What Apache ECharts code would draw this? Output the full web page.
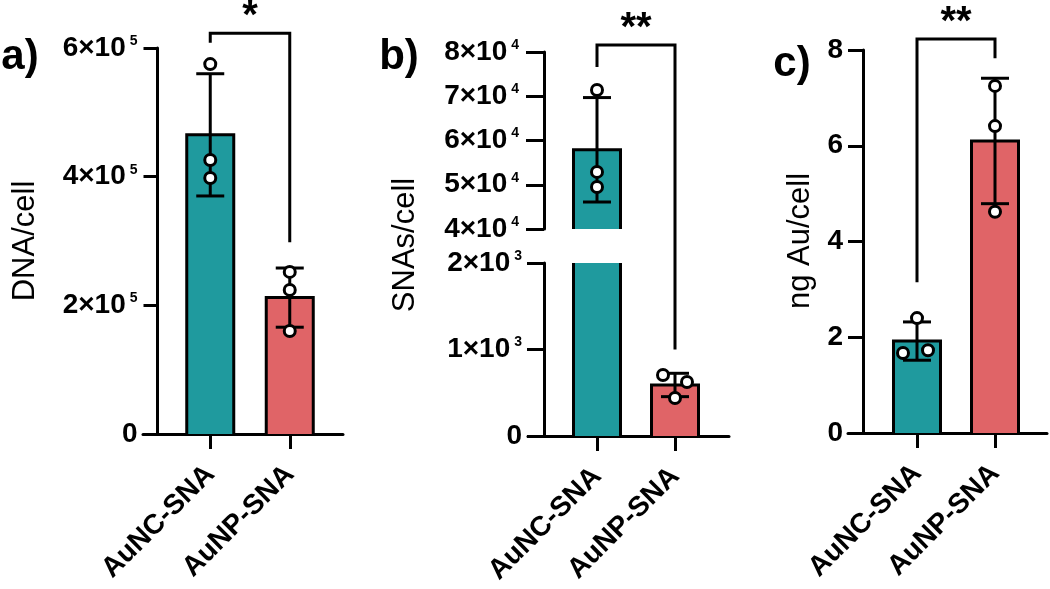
<!DOCTYPE html>
<html><head><meta charset="utf-8">
<script src="https://cdn.jsdelivr.net/npm/echarts@6/dist/echarts.min.js"></script>
<style>html,body{margin:0;padding:0;background:#fff}#c{width:1050px;height:589px}</style>
</head><body><div id="c"></div>
<script>
// ---------------- data ----------------
const categories = ['AuNC-SNA', 'AuNP-SNA'];
// panel a: DNA/cell
const dnaMean = [465000, 212000];
const dnaSD = [95000, 46000];
const dnaPtsNC = [575000, 426000, 398000];
const dnaPtsNP = [252000, 224000, 160000];
// panel b: SNAs/cell (broken axis)
const snaMean = [57900, 590];
const snaSD = [11800, 135];
const snaPtsNC = [71400, 52900, 49500];
const snaPtsNP = [705, 624, 439];
// panel c: ng Au/cell
const auMean = [1.92, 6.10];
const auSD = [0.40, 1.31];
const auPtsNC = [2.40, 1.67, 1.73];
const auPtsNP = [7.25, 6.41, 4.62];
// text
const yTitles = ['DNA/cell', 'SNAs/cell', 'ng Au/cell'];
const panelLabels = ['a)', 'b)', 'c)'];
const sigLabels = ['*', '**', '**'];
// significance bracket heights (data units): [leftLegBottom, top, rightLegBottom]
const bracketA = [608000, 623000, 298000];
const bracketB = [76600, 81600, 1000];
const bracketC = [3.15, 8.23, 7.83];

// ---------------- style ----------------
const FF = '"Liberation Sans", Arial, Helvetica, sans-serif';
const TEAL = '#1F9A9E';
const RED = '#E06467';
const barColors = [TEAL, RED];
const BAR_W = 47;
const CAP_HALF = 14;
const LW = 3;
// point jitter in px (style only)
const jit = { aNC:[0,0,0], aNP:[0,0,0], bNC:[0,0,0], bNP:[-12,12,0], cNC:[0,-14,11], cNP:[0,0,0] };

function barRender(params, api) {
  const idx = api.value(0), val = api.value(1);
  const cs = params.coordSys;
  const c = api.coord([idx, val]);
  const base = api.coord([idx, 0]);
  const l = c[0] - BAR_W / 2, r = c[0] + BAR_W / 2;
  const topClipped = c[1] < cs.y;
  const top = Math.max(c[1], cs.y);
  const bot = Math.min(base[1], cs.y + cs.height);
  if (bot <= top) return null;
  const ch = [{ type: 'rect', shape: { x: l, y: top, width: BAR_W, height: bot - top }, style: { fill: api.visual('color') } }];
  const st = { stroke: '#000', lineWidth: LW, fill: null, lineJoin: 'miter' };
  if (!topClipped) {
    ch.push({ type: 'polyline', shape: { points: [[l, bot], [l, top], [r, top], [r, bot]] }, style: st });
  } else {
    ch.push({ type: 'line', shape: { x1: l, y1: top, x2: l, y2: bot }, style: st });
    ch.push({ type: 'line', shape: { x1: r, y1: top, x2: r, y2: bot }, style: st });
  }
  return { type: 'group', children: ch };
}
function errRender(params, api) {
  const idx = api.value(0);
  const hi = api.coord([idx, api.value(1)]);
  const lo = api.coord([idx, api.value(2)]);
  const st = { stroke: '#000', lineWidth: LW };
  return { type: 'group', children: [
    { type: 'line', shape: { x1: hi[0], y1: hi[1], x2: lo[0], y2: lo[1] }, style: st },
    { type: 'line', shape: { x1: hi[0] - CAP_HALF, y1: hi[1], x2: hi[0] + CAP_HALF, y2: hi[1] }, style: st },
    { type: 'line', shape: { x1: lo[0] - CAP_HALF, y1: lo[1], x2: lo[0] + CAP_HALF, y2: lo[1] }, style: st }
  ]};
}

function barSeries(xi, yi, means, which) {
  return { type: 'custom', xAxisIndex: xi, yAxisIndex: yi, renderItem: barRender, z: 2, clip: false,
    data: which.map(i => ({ value: [i, means[i]], itemStyle: { color: barColors[i] } })) };
}
function errSeries(xi, yi, means, sds, which) {
  return { type: 'custom', xAxisIndex: xi, yAxisIndex: yi, renderItem: errRender, z: 3, clip: false,
    data: which.map(i => [i, means[i] + sds[i], means[i] - sds[i]]) };
}
function ptSeries(xi, yi, pts, catIdx, jx) {
  return { type: 'scatter', xAxisIndex: xi, yAxisIndex: yi, z: 4, symbol: 'circle', symbolSize: 11,
    itemStyle: { color: '#fff', borderColor: '#000', borderWidth: 3, opacity: 1 },
    data: pts.map((v, k) => ({ value: [catIdx, v], symbolOffset: [jx[k], 0] })) };
}

const rich = {
  n: { fontSize: 28, fontWeight: 'bold', fontFamily: FF, color: '#000' },
  s: { fontSize: 14, fontWeight: 'bold', fontFamily: FF, color: '#000', verticalAlign: 'top', padding: [0, 0, 0, 4] }
};
const sci = (base, exp) => v => v === 0 ? '{n|0}' : '{n|' + Math.round(v / base) + '×10}{s|' + exp + '}';

function catAxis(gi, showLbl) {
  return { type: 'category', gridIndex: gi, data: categories, show: showLbl,
    axisLine: { show: false },
    axisTick: { show: true, alignWithLabel: true, length: 15, lineStyle: { width: LW, color: '#000' } },
    axisLabel: { interval: 0, rotate: 45, margin: 36, fontSize: 28, fontWeight: 'bold', fontFamily: FF, color: '#000' } };
}
function lineXAxis(gi) {
  return { type: 'value', gridIndex: gi, min: 0, max: 1,
    axisLine: { show: true, onZero: false, lineStyle: { width: LW, color: '#000' } },
    axisTick: { show: false }, axisLabel: { show: false }, splitLine: { show: false } };
}
function valYAxis(gi, min, max, interval, offset, tickLen, margin, fmt) {
  return { type: 'value', gridIndex: gi, min, max, interval, offset,
    axisLine: { show: true, lineStyle: { width: LW, color: '#000' } },
    axisTick: { show: true, length: tickLen, lineStyle: { width: LW, color: '#000' } },
    axisLabel: { margin, formatter: fmt, rich, fontSize: 28, fontWeight: 'bold', fontFamily: FF, color: '#000' },
    splitLine: { show: false } };
}
const hiddenY = gi => ({ type: 'value', gridIndex: gi, show: false, min: 0, max: 1 });

const option = {
  animation: false,
  backgroundColor: '#fff',
  grid: [
    { left: 170.5, top: 48, width: 159, height: 386 },   // 0 a
    { left: 143, top: 48, width: 200, height: 386 },     // 1 a axis line
    { left: 558, top: 52, width: 156, height: 177 },     // 2 b upper
    { left: 558, top: 263, width: 156, height: 173 },    // 3 b lower
    { left: 528, top: 263, width: 201, height: 173 },    // 4 b axis line
    { left: 878, top: 50, width: 156, height: 383 },     // 5 c
    { left: 848, top: 50, width: 199, height: 383 }      // 6 c axis line
  ],
  xAxis: [
    catAxis(0, true), lineXAxis(1), catAxis(2, false), catAxis(3, true), lineXAxis(4), catAxis(5, true), lineXAxis(6)
  ],
  yAxis: [
    valYAxis(0, 0, 600000, 200000, 13, 14, 20, sci(1e5, 5)),
    hiddenY(1),
    valYAxis(2, 40000, 80000, 10000, 14, 18, 25, sci(1e4, 4)),
    valYAxis(3, 0, 2000, 1000, 14, 17, 22, sci(1e3, 3)),
    hiddenY(4),
    valYAxis(5, 0, 8, 2, 15, 15, 20, v => '{n|' + v + '}'),
    hiddenY(6)
  ],
  series: [
    barSeries(0, 0, dnaMean, [0, 1]), errSeries(0, 0, dnaMean, dnaSD, [0, 1]),
    ptSeries(0, 0, dnaPtsNC, 0, jit.aNC), ptSeries(0, 0, dnaPtsNP, 1, jit.aNP),
    barSeries(2, 2, snaMean, [0]), errSeries(2, 2, snaMean, snaSD, [0]), ptSeries(2, 2, snaPtsNC, 0, jit.bNC),
    barSeries(3, 3, snaMean, [0, 1]), errSeries(3, 3, snaMean, snaSD, [1]), ptSeries(3, 3, snaPtsNP, 1, jit.bNP),
    barSeries(5, 5, auMean, [0, 1]), errSeries(5, 5, auMean, auSD, [0, 1]),
    ptSeries(5, 5, auPtsNC, 0, jit.cNC), ptSeries(5, 5, auPtsNP, 1, jit.cNP)
  ]
};

const chart = echarts.init(document.getElementById('c'));
chart.setOption(option);

const px = (g, x, y) => chart.convertToPixel({ gridIndex: g }, [x, y]);
const brackets = [
  [px(0, 0, bracketA[0]), px(0, 0, bracketA[1]), px(0, 1, bracketA[1]), px(0, 1, bracketA[2])],
  [px(2, 0, bracketB[0]), px(2, 0, bracketB[1]), px(2, 1, bracketB[1]), px(3, 1, bracketB[2])],
  [px(5, 0, bracketC[0]), px(5, 0, bracketC[1]), px(5, 1, bracketC[1]), px(5, 1, bracketC[2])]
];
const graphics = [];
brackets.forEach((pts, i) => {
  graphics.push({ type: 'polyline', shape: { points: pts }, style: { stroke: '#000', lineWidth: LW, fill: null }, z: 10 });
  graphics.push({ type: 'text', x: (pts[1][0] + pts[2][0]) / 2, y: pts[1][1] - 16, z: 10,
    style: { text: sigLabels[i], fontSize: 40, fontWeight: 'bold', fontFamily: FF, fill: '#000', align: 'center', verticalAlign: 'middle' } });
});
const labelPos = [[20, 57], [399, 57], [792, 64]];
panelLabels.forEach((t, i) => graphics.push({ type: 'text', x: labelPos[i][0], y: labelPos[i][1], z: 10,
  style: { text: t, fontSize: 42, fontWeight: 'bold', fontFamily: FF, fill: '#000', align: 'center', verticalAlign: 'middle' } }));
const titlePos = [[25, 241], [405, 245], [800, 241]];
yTitles.forEach((t, i) => graphics.push({ type: 'text', x: titlePos[i][0], y: titlePos[i][1], rotation: Math.PI / 2, z: 10,
  style: { text: t, fontSize: 31, fontFamily: FF, fill: '#000', align: 'center', verticalAlign: 'middle' } }));
chart.setOption({ graphic: graphics });
</script></body></html>
